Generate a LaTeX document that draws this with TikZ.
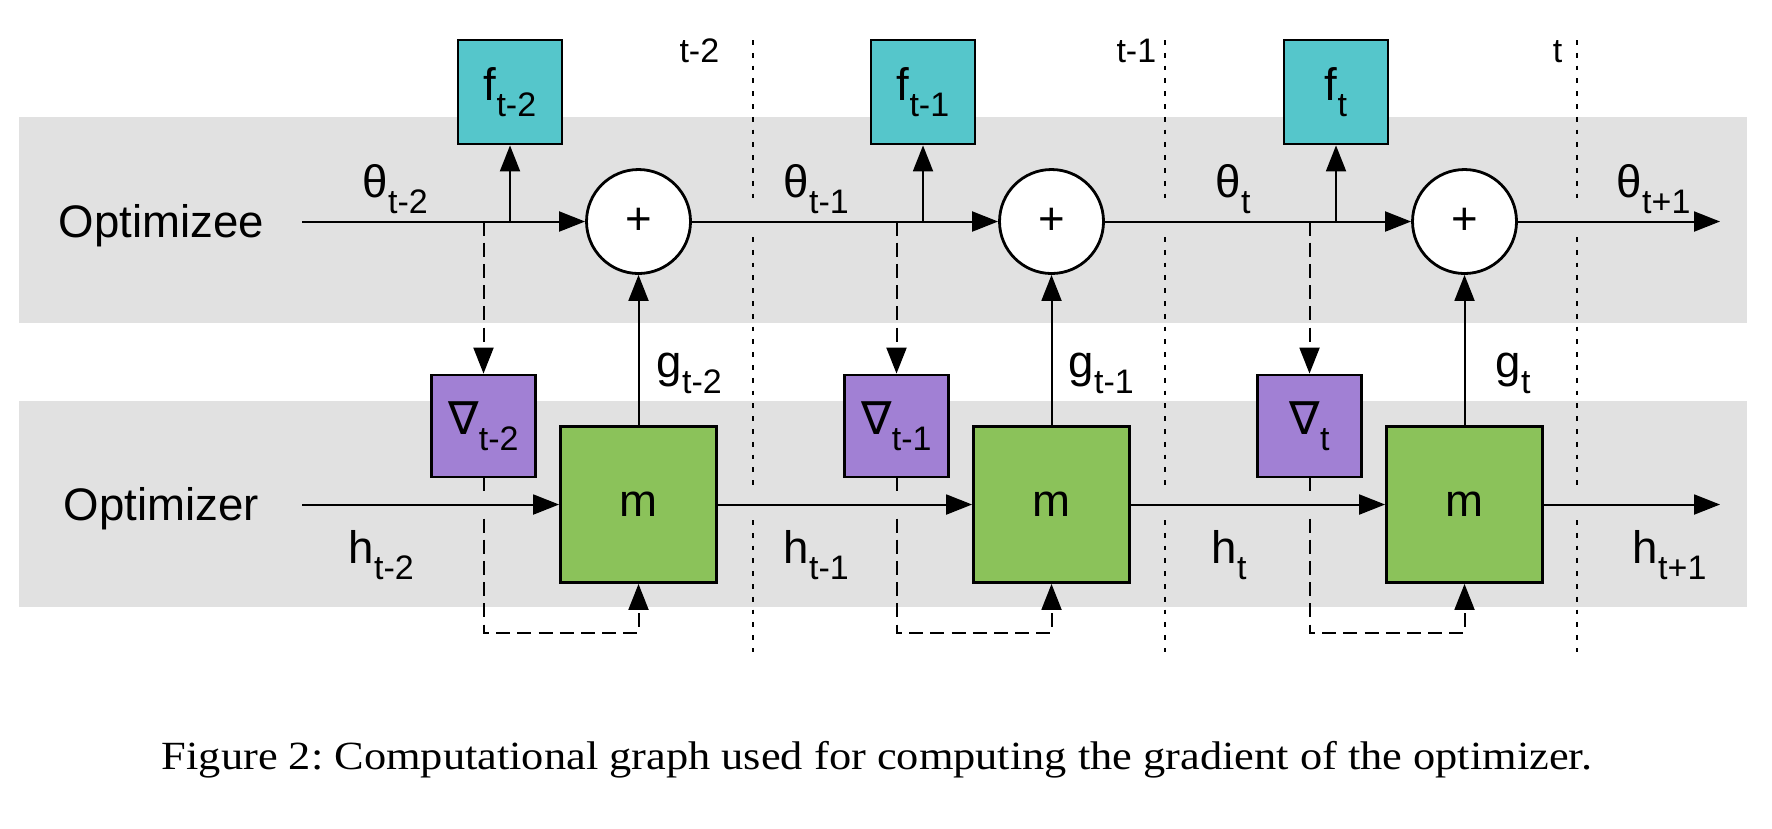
\documentclass[tikz,border=0pt]{standalone}
\usepackage{fontspec}
\setmainfont{Liberation Serif}
\newfontfamily\capfont[FakeStretch=1.11]{Liberation Serif}
\newfontfamily\diagfont{Liberation Sans}
\newfontfamily\nablafont{DejaVu Sans}
\usepackage{tikz}
\usetikzlibrary{arrows.meta,calc}
\definecolor{lossc}{HTML}{55C6CB}
\definecolor{gradc}{HTML}{A180D4}
\definecolor{optc}{HTML}{8BC25A}
\definecolor{bandc}{HTML}{E1E1E1}
\newcommand{\idx}[1]{\raisebox{-4pt}{\fontsize{8.5}{9}\selectfont #1}}
\newcommand{\nb}{{\nablafont ∇}}

\tikzset{
  lbl/.style={font=\diagfont\fontsize{11.4}{13}\selectfont, inner sep=0pt},
  tlbl/.style={font=\diagfont\fontsize{8.5}{9}\selectfont, inner sep=0pt},
  lossbox/.style={lbl, draw, line width=0.7pt, fill=lossc, minimum width=26pt, minimum height=26pt},
  gradbox/.style={lbl, draw, line width=0.7pt, fill=gradc, minimum width=26pt, minimum height=25.5pt},
  optbox/.style={lbl, draw, line width=0.7pt, fill=optc, minimum width=39pt, minimum height=39pt},
  sumnode/.style={lbl, circle, draw, line width=0.7pt, fill=white, minimum size=26pt},
  arr/.style={line width=0.5pt, -{Triangle[length=6.5pt,width=5pt]}},
  dasharr/.style={arr, dash pattern=on 3.5pt off 1.8pt},
  dashline/.style={line width=0.5pt, dash pattern=on 3.5pt off 1.8pt},
  tick/.style={line width=0.55pt, dash pattern=on 1.2pt off 2pt},
  band/.style={fill=bandc}
}

\begin{document}
\begin{tikzpicture}[x=0.25pt,y=0.25pt]
\useasboundingbox (0,0) rectangle (1772,-828);
% background bands
\fill [band] (19,-117) rectangle (1747,-323);
\fill [band] (19,-401) rectangle (1747,-607);
% time separators
\draw [tick] (753,-40) -- (753,-203);
\draw [tick] (753,-237) -- (753,-485);
\draw [tick] (753,-520) -- (753,-652);
\draw [tick] (1165,-40) -- (1165,-203);
\draw [tick] (1165,-237) -- (1165,-485);
\draw [tick] (1165,-520) -- (1165,-652);
\draw [tick] (1577,-40) -- (1577,-203);
\draw [tick] (1577,-237) -- (1577,-485);
\draw [tick] (1577,-520) -- (1577,-652);
\node [tlbl, anchor=base east] (time1) at (720,-62) {t-2};
\node [tlbl, anchor=base east] (time2) at (1157,-62) {t-1};
\node [tlbl, anchor=base east] (time3) at (1563,-62) {t};
% row labels
\node [lbl, anchor=base] (optee) at (161.5,-237.5) {Optimizee};
\node [lbl, anchor=base] (opter) at (161.5,-520) {Optimizer};
% nodes
\node [lossbox] (f1) at (510,-92) {f\idx{t-2}};
\node [lossbox] (f2) at (923,-92) {f\idx{t-1}};
\node [lossbox] (f3) at (1336,-92) {f\idx{t}};
\node [sumnode] (sum1) at (638.5,-221.5) {+};
\node [sumnode] (sum2) at (1051.5,-221.5) {+};
\node [sumnode] (sum3) at (1464.5,-221.5) {+};
\node [gradbox] (grad1) at (483.5,-426) {\nb\idx{t-2}};
\node [gradbox] (grad2) at (896.5,-426) {\nb\idx{t-1}};
\node [gradbox] (grad3) at (1309.5,-426) {\nb\idx{t}};
\node [optbox] (m1) at (638.5,-504.5) {m};
\node [optbox] (m2) at (1051.5,-504.5) {m};
\node [optbox] (m3) at (1464.5,-504.5) {m};
\coordinate (thin) at (302,-221.5);
\coordinate (thout) at (1720,-221.5);
\coordinate (hin) at (302,-504.5);
\coordinate (hout) at (1720,-504.5);
\coordinate (loop1) at (638.5,-633);
\coordinate (loop2) at (1051.5,-633);
\coordinate (loop3) at (1464.5,-633);
% edge labels
\node [lbl, anchor=base west] (th1) at (362,-197) {θ\idx{t-2}};
\node [lbl, anchor=base west] (th2) at (783,-197) {θ\idx{t-1}};
\node [lbl, anchor=base west] (th3) at (1215,-197) {θ\idx{t}};
\node [lbl, anchor=base west] (th4) at (1616,-197) {θ\idx{t+1}};
\node [lbl, anchor=base west] (g1) at (656,-377) {g\idx{t-2}};
\node [lbl, anchor=base west] (g2) at (1068,-377) {g\idx{t-1}};
\node [lbl, anchor=base west] (g3) at (1495,-377) {g\idx{t}};
\node [lbl, anchor=base west] (h1) at (348,-563) {h\idx{t-2}};
\node [lbl, anchor=base west] (h2) at (783,-563) {h\idx{t-1}};
\node [lbl, anchor=base west] (h3) at (1211,-563) {h\idx{t}};
\node [lbl, anchor=base west] (h4) at (1632,-563) {h\idx{t+1}};
% optimizee row
\draw [arr] (thin) -- (sum1);
\draw [arr] (sum1) -- (sum2);
\draw [arr] (sum2) -- (sum3);
\draw [arr] (sum3) -- (thout);
\draw [arr] (f1 |- sum1) -- (f1);
\draw [arr] (f2 |- sum2) -- (f2);
\draw [arr] (f3 |- sum3) -- (f3);
% optimizer row
\draw [arr] (hin) -- (m1);
\draw [arr] (m1) -- (m2);
\draw [arr] (m2) -- (m3);
\draw [arr] (m3) -- (hout);
\draw [arr] (m1) -- (sum1);
\draw [arr] (m2) -- (sum2);
\draw [arr] (m3) -- (sum3);
% gradients
\draw [dasharr] (grad1 |- sum1) -- (grad1);
\draw [dasharr] (grad2 |- sum2) -- (grad2);
\draw [dasharr] (grad3 |- sum3) -- (grad3);
\draw [dashline] (grad1.south) -- ($(grad1 |- m1)+(0,14)$);
\draw [dashline] (grad2.south) -- ($(grad2 |- m2)+(0,14)$);
\draw [dashline] (grad3.south) -- ($(grad3 |- m3)+(0,14)$);
\draw [dasharr] ($(grad1 |- m1)+(0,-14)$) |- (loop1) -- (m1);
\draw [dasharr] ($(grad2 |- m2)+(0,-14)$) |- (loop2) -- (m2);
\draw [dasharr] ($(grad3 |- m3)+(0,-14)$) |- (loop3) -- (m3);
% caption
\node [font=\capfont\fontsize{10}{12}\selectfont\frenchspacing, inner sep=0pt, anchor=base west] (cap) at (161,-769)
  {Figure 2: Computational graph used for computing the gradient of the optimizer.};
\end{tikzpicture}
\end{document}
